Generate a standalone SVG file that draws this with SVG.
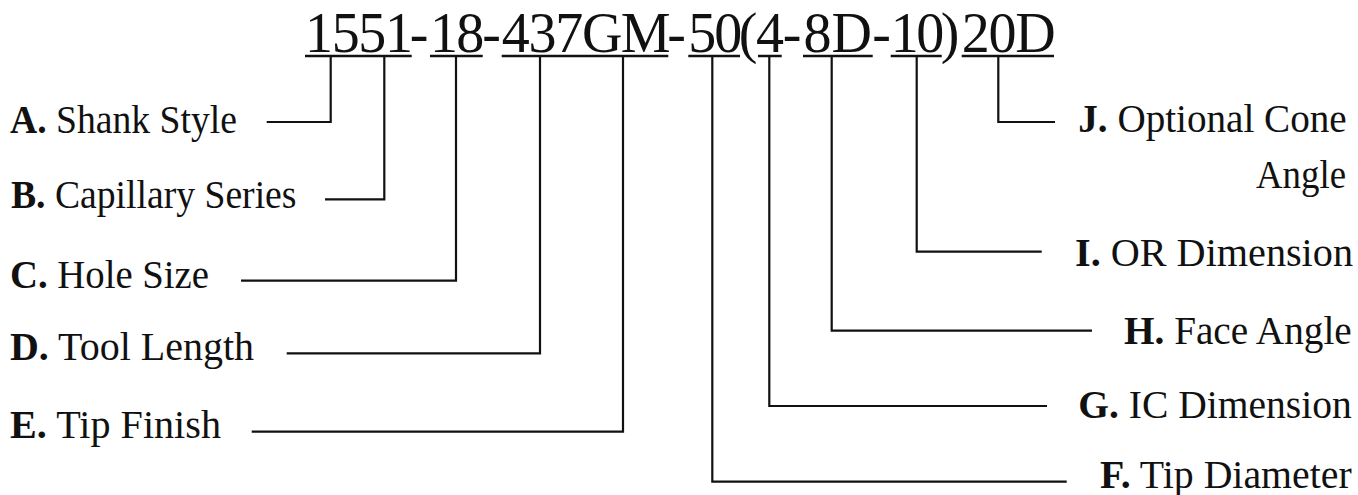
<svg xmlns="http://www.w3.org/2000/svg" width="1358" height="495" viewBox="0 0 1358 495">
<style>
.code{font-family:"Liberation Serif","Times New Roman",serif;font-size:56px;fill:#111;}
.lbl{font-family:"Liberation Serif","Times New Roman",serif;font-size:40px;fill:#111;}
.b{font-weight:bold;}
.ul{stroke:#111;stroke-width:2.5;fill:none;}
.conn{stroke:#111;stroke-width:2.2;fill:none;stroke-linejoin:miter;stroke-linecap:butt;}
</style>
<rect width="1358" height="495" fill="#fff"/>
<g id="code">
<text class="code" y="51.7" x="305 331.7 358.3 385 409.7 430 456.3 482.2 501.7 528.5 555.3 582.1 620.7 667.2 688.3 714.2 738.7 756 782.7 803.5 831.5 872.2 890.7 916.2 940.7 961.7 988.5 1015.3">1551-18-437GM-50(4-8D-10)20D</text>
<line class="ul" x1="305" y1="56" x2="411.7" y2="56"/>
<line class="ul" x1="430" y1="56" x2="482.7" y2="56"/>
<line class="ul" x1="501.7" y1="56" x2="668.3" y2="56"/>
<line class="ul" x1="688.3" y1="56" x2="740" y2="56"/>
<line class="ul" x1="758" y1="56" x2="781.7" y2="56"/>
<line class="ul" x1="803" y1="56" x2="872.7" y2="56"/>
<line class="ul" x1="890.7" y1="56" x2="941.7" y2="56"/>
<line class="ul" x1="961.7" y1="56" x2="1054" y2="56"/>
</g>
<g id="connectors">
<polyline class="conn" points="330.7,57 330.7,122 266.7,122"/>
<polyline class="conn" points="384.3,57 384.3,199.3 325,199.3"/>
<polyline class="conn" points="456,57 456,280.7 241,280.7"/>
<polyline class="conn" points="540,57 540,353.3 286.7,353.3"/>
<polyline class="conn" points="623,57 623,431.7 251.7,431.7"/>
<polyline class="conn" points="712.3,57 712.3,481.7 1066.7,481.7"/>
<polyline class="conn" points="769.3,57 769.3,406 1047,406"/>
<polyline class="conn" points="831.7,57 831.7,330.7 1092,330.7"/>
<polyline class="conn" points="916.7,57 916.7,251.7 1041.7,251.7"/>
<polyline class="conn" points="998.3,57 998.3,122 1055,122"/>
</g>
<g id="A"><text class="lbl" x="10" y="132.5" textLength="227" lengthAdjust="spacingAndGlyphs"><tspan class="b">A.</tspan> Shank Style</text></g>
<g id="B"><text class="lbl" x="11" y="208.3" textLength="285.5" lengthAdjust="spacingAndGlyphs"><tspan class="b">B.</tspan> Capillary Series</text></g>
<g id="C"><text class="lbl" x="10" y="288" textLength="199" lengthAdjust="spacingAndGlyphs"><tspan class="b">C.</tspan> Hole Size</text></g>
<g id="D"><text class="lbl" x="10" y="360" textLength="244" lengthAdjust="spacingAndGlyphs"><tspan class="b">D.</tspan> Tool Length</text></g>
<g id="E"><text class="lbl" x="10" y="437.5" textLength="211" lengthAdjust="spacingAndGlyphs"><tspan class="b">E.</tspan> Tip Finish</text></g>
<g id="J">
<text class="lbl" x="1078.3" y="131.7" textLength="268.4" lengthAdjust="spacingAndGlyphs"><tspan class="b">J.</tspan> Optional Cone</text>
<text class="lbl" x="1256" y="188.3" textLength="90" lengthAdjust="spacingAndGlyphs">Angle</text>
</g>
<g id="I"><text class="lbl" x="1075" y="266" textLength="278" lengthAdjust="spacingAndGlyphs"><tspan class="b">I.</tspan> OR Dimension</text></g>
<g id="H"><text class="lbl" x="1124" y="344" textLength="227.7" lengthAdjust="spacingAndGlyphs"><tspan class="b">H.</tspan> Face Angle</text></g>
<g id="G"><text class="lbl" x="1078.3" y="418" textLength="273.4" lengthAdjust="spacingAndGlyphs"><tspan class="b">G.</tspan> IC Dimension</text></g>
<g id="F"><text class="lbl" x="1100" y="488" textLength="251.7" lengthAdjust="spacingAndGlyphs"><tspan class="b">F.</tspan> Tip Diameter</text></g>
</svg>
